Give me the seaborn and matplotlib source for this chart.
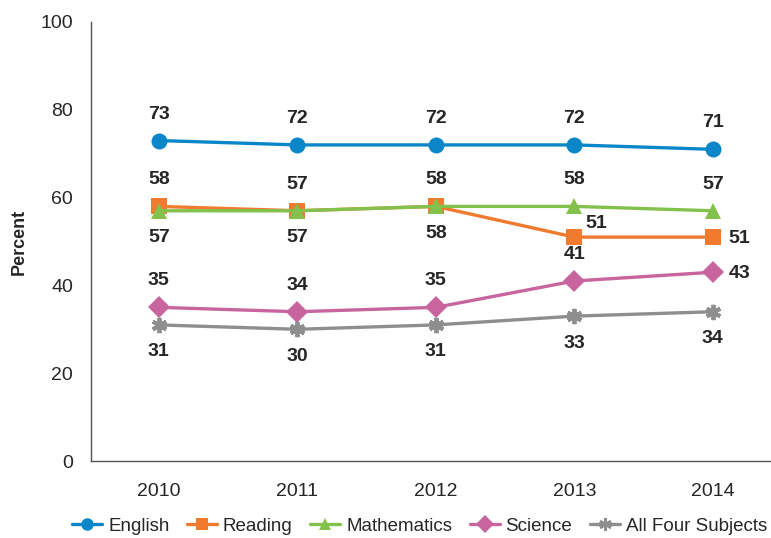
import pandas as pd
import seaborn as sns
import matplotlib.pyplot as plt

years = [2010, 2011, 2012, 2013, 2014]
english = [73, 72, 72, 72, 71]
reading = [58, 57, 58, 51, 51]
mathematics = [57, 57, 58, 58, 57]
science = [35, 34, 35, 41, 43]
all_four = [31, 30, 31, 33, 34]
subjects = ['English', 'Reading', 'Mathematics', 'Science', 'All Four Subjects']

#long table for seaborn
df = pd.DataFrame({'Year': years * 5,
                   'Percent': english + reading + mathematics + science + all_four,
                   'Subject': [s for s in subjects for _ in years]})

colors = {'English': '#0B87C9', 'Reading': '#F07A2E', 'Mathematics': '#82C14B',
          'Science': '#C8659F', 'All Four Subjects': '#8E8E8E'}
markers = {'English': 'o', 'Reading': 's', 'Mathematics': '^',
           'Science': 'D', 'All Four Subjects': (6, 2, 0)}
msize = {'English': 11.5, 'Reading': 11, 'Mathematics': 12,
         'Science': 11.5, 'All Four Subjects': 11}

sns.set_style('white')
plt.rcParams['font.family'] = ['Liberation Sans', 'DejaVu Sans']

fig = plt.figure(figsize=(7.71, 5.38), dpi=100)
ax = fig.add_axes([91/771, 77/538, 691/771, 439/538])

#one call per subject (asterisk can't mix with filled markers)
for s in subjects:
    sub = df[df['Subject'] == s]
    star = s == 'All Four Subjects'
    sns.lineplot(data=sub, x='Year', y='Percent', color=colors[s], marker=markers[s],
                 linewidth=2.4, markersize=msize[s], markeredgewidth=2.8 if star else 0,
                 markeredgecolor=colors[s], ax=ax, label=s, legend=False)

#label placement per series
place = {'English': ['up'] * 5,
         'Reading': ['up', 'up', 'up', 'upright', 'right'],
         'Mathematics': ['down', 'down', 'down', 'up', 'up'],
         'Science': ['up', 'up', 'up', 'up', 'right'],
         'All Four Subjects': ['down'] * 5}
offsets = {'up': (0, 19), 'down': (0, -19.5), 'right': (19, -1), 'upright': (15.5, 10)}
for s in subjects:
    sub = df[df['Subject'] == s]
    for (x, y), p in zip(zip(sub['Year'], sub['Percent']), place[s]):
        ax.annotate(str(y), (x, y), xytext=offsets[p], textcoords='offset points',
                    ha='center', va='center', fontsize=14, fontweight='bold')

ax.set_xlim(2009.51, 2014.5)
ax.set_ylim(0, 100)
ax.set_xticks(years)
ax.set_yticks(range(0, 101, 20))
ax.tick_params(labelsize=14, length=0)
ax.tick_params(axis='x', pad=16)
ax.tick_params(axis='y', pad=13)
ax.set_xlabel('')
ax.set_ylabel('Percent', fontsize=13, fontweight='bold', labelpad=9)
sns.despine(ax=ax)
for sp in ['left', 'bottom']:
    ax.spines[sp].set_color('#555555')
    ax.spines[sp].set_linewidth(1)

handles = [plt.Line2D([], [], color=colors[s], marker=markers[s], markersize=9,
                      linewidth=2.4, markeredgewidth=2 if s == 'All Four Subjects' else 0,
                      markeredgecolor=colors[s]) for s in subjects]
fig.legend(handles, subjects, loc='center left', bbox_to_anchor=(0.094, 0.022),
           ncol=5, frameon=False, fontsize=13.5, handlelength=1.6,
           handletextpad=0.3, columnspacing=0.95, borderpad=0, borderaxespad=0)

fig.savefig('out.png', dpi=100)
